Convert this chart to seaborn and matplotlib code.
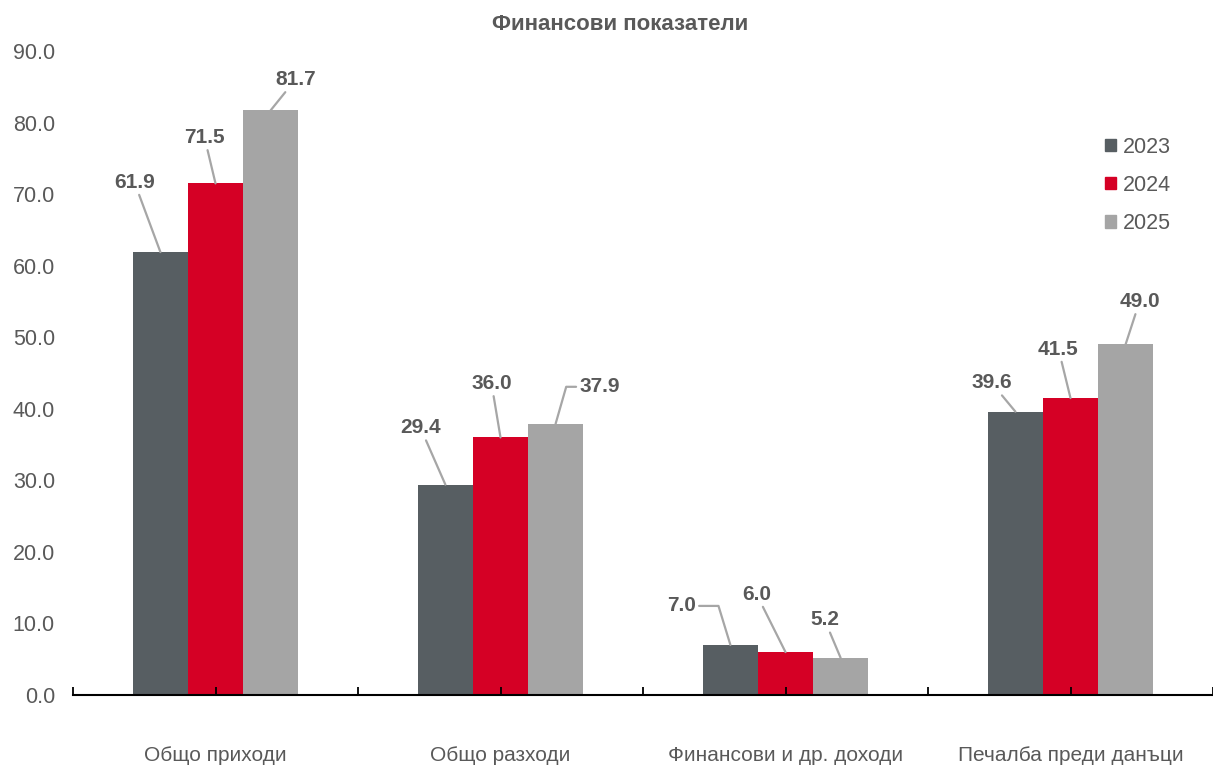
import pandas as pd
import matplotlib.pyplot as plt
import seaborn as sns

# data
categories = ['Общо приходи', 'Общо разходи', 'Финансови и др. доходи', 'Печалба преди данъци']
years = ['2023', '2024', '2025']
values_2023 = [61.9, 29.4, 7.0, 39.6]
values_2024 = [71.5, 36.0, 6.0, 41.5]
values_2025 = [81.7, 37.9, 5.2, 49.0]
y_ticks = [0, 10, 20, 30, 40, 50, 60, 70, 80, 90]

colors = ['#575E62', '#D50025', '#A5A5A5']
text_color = '#595959'
line_color = '#A6A6A6'

# label offsets (pixels) from the top of each bar, per year then category
label_offsets = [
    [(-26, 70), (-25, 57), (-49, 39), (-24, 29)],
    [(-11, 46), (-9, 54), (-29, 58), (-12, 49)],
    [(25, 31), (44, 37), (-16, 38), (14, 43)],
]

df = pd.DataFrame({
    'Категория': categories * 3,
    'Година': [y for y in years for _ in categories],
    'Стойност': values_2023 + values_2024 + values_2025,
})

sns.set_theme(style='white')
plt.rcParams['font.family'] = ['Liberation Sans', 'DejaVu Sans']

fig = plt.figure(figsize=(12.13, 7.67), dpi=100)
ax = fig.add_axes([73 / 1213, 1 - 695 / 767, 1 - 73 / 1213, (695 - 51) / 767])

sns.barplot(data=df, x='Категория', y='Стойност', hue='Година', palette=colors,
            width=0.58, saturation=1, linewidth=0, ax=ax, legend=False)

ax.set_ylim(0, 90)
ax.set_xlim(-0.5, 3.5 - 11 / 288)
ax.set_yticks(y_ticks)
ax.set_yticklabels([f'{v:.1f}' for v in y_ticks], fontsize=15.5, color=text_color)
ax.set_xlabel('')
ax.set_ylabel('')
ax.tick_params(axis='y', length=0, pad=13)

# category labels at centres, tick marks every half category
ax.set_xticks(range(len(categories)))
ax.set_xticklabels(categories, fontsize=15, color=text_color)
ax.set_xticks([i - 0.5 for i in range(len(categories) + 1)], minor=True)
ax.tick_params(axis='x', which='both', bottom=True, direction='in', length=6, width=1.3,
               color='black', pad=37)
ax.set_axisbelow(False)

for side in ['top', 'right', 'left']:
    ax.spines[side].set_visible(False)
ax.spines['bottom'].set_color('black')
ax.spines['bottom'].set_linewidth(1.5)

# value labels with leader lines
for i, container in enumerate(ax.containers):
    for j, bar in enumerate(container):
        x = bar.get_x() + bar.get_width() / 2
        h = bar.get_height()
        dx, dy = label_offsets[i][j]
        arrow = dict(arrowstyle='-', color=line_color, lw=1.6, shrinkA=0, shrinkB=0)
        if (i, j) == (2, 1):
            arrow.update(relpos=(0, 0.5), connectionstyle='angle,angleA=180,angleB=74,rad=0')
        elif (i, j) == (0, 2):
            arrow.update(relpos=(1, 0.5), connectionstyle='angle,angleA=0,angleB=107,rad=0')
        ax.annotate(f'{h:.1f}', xy=(x, h), xytext=(dx, dy), textcoords='offset pixels',
                    ha='center', va='center', fontsize=15, fontweight='bold',
                    color=text_color, arrowprops=arrow, annotation_clip=False)

handles = [plt.Rectangle((0, 0), 1, 1, color=c) for c in colors]
fig.legend(handles, years, loc='upper left', bbox_to_anchor=(1094 / 1213, 1 - 126 / 767),
           frameon=False, fontsize=15.5, labelcolor=text_color, handlelength=0.5,
           handleheight=0.5, handletextpad=0.35, labelspacing=0.8, borderpad=0)

fig.text(620 / 1213, 1 - 25 / 767, 'Финансови показатели', ha='center', va='center',
         fontsize=16, fontweight='bold', color=text_color)

fig.savefig('out.png', dpi=100)
